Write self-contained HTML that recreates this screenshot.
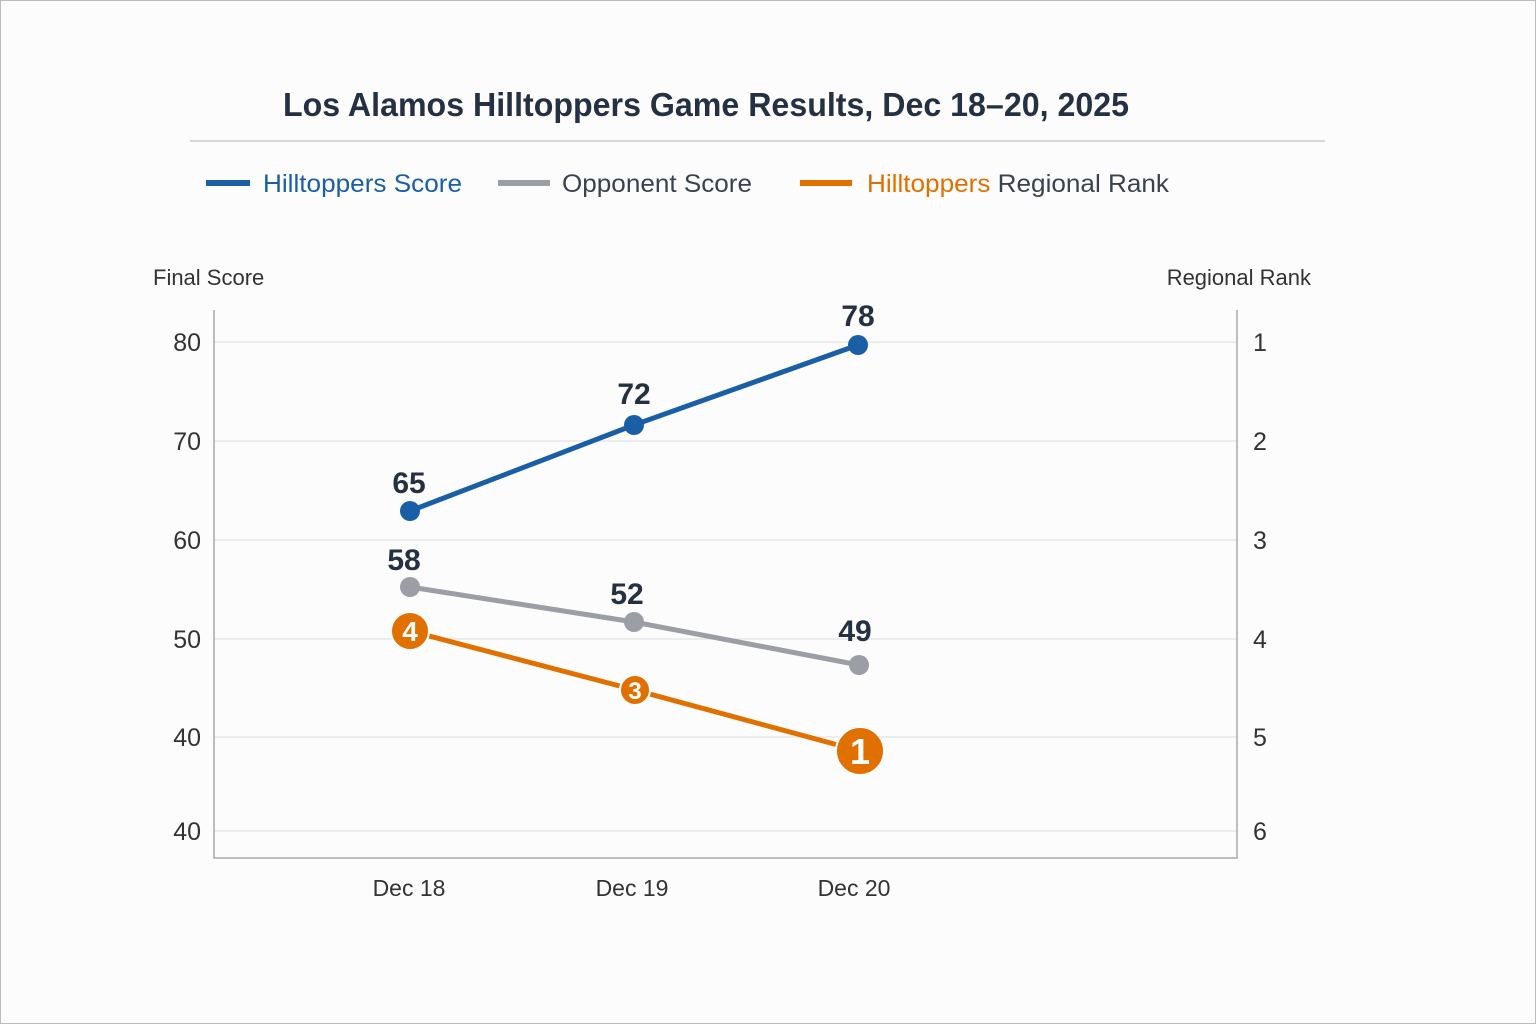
<!DOCTYPE html>
<html><head><meta charset="utf-8"><style>
html,body{margin:0;padding:0;background:#fff;}
svg{display:block;font-family:"Liberation Sans",sans-serif;}
</style></head><body>
<svg width="1536" height="1024" viewBox="0 0 1536 1024">
<rect x="0" y="0" width="1536" height="1024" fill="#fcfcfc"/>
<rect x="0.5" y="0.5" width="1535" height="1023" fill="none" stroke="#bbb" stroke-width="1"/>
<text x="283" y="116" textLength="846" lengthAdjust="spacingAndGlyphs" font-size="33" font-weight="bold" fill="#253142">Los Alamos Hilltoppers Game Results, Dec 18–20, 2025</text>
<line x1="190" y1="141" x2="1325" y2="141" stroke="#ccc" stroke-width="1.5"/>
<line x1="206" y1="183" x2="250" y2="183" stroke="#1a5ea6" stroke-width="6"/>
<text x="263" y="192" font-size="25" fill="#1a5ea6" textLength="199" lengthAdjust="spacingAndGlyphs">Hilltoppers Score</text>
<line x1="498" y1="183" x2="550" y2="183" stroke="#9b9ea4" stroke-width="6"/>
<text x="562" y="192" font-size="25" fill="#3a4250" textLength="190" lengthAdjust="spacingAndGlyphs">Opponent Score</text>
<line x1="800" y1="183" x2="852" y2="183" stroke="#e07000" stroke-width="6"/>
<text x="867" y="192" font-size="25" fill="#3a4250" textLength="302" lengthAdjust="spacingAndGlyphs"><tspan fill="#e07000">Hilltoppers</tspan> Regional Rank</text>
<text x="153" y="285" font-size="22" fill="#333">Final Score</text>
<text x="1311" y="285" font-size="22" fill="#333" text-anchor="end">Regional Rank</text>
<g stroke="#e2e2e2" stroke-width="1.2">
<line x1="214" y1="342" x2="1237" y2="342"/><line x1="214" y1="441" x2="1237" y2="441"/>
<line x1="214" y1="540" x2="1237" y2="540"/><line x1="214" y1="639" x2="1237" y2="639"/>
<line x1="214" y1="737" x2="1237" y2="737"/><line x1="214" y1="831" x2="1237" y2="831"/>
</g>
<path d="M214 310 V858 H1237 V310" fill="none" stroke="#aaa" stroke-width="1.5"/>
<g font-size="25" fill="#333" text-anchor="end">
<text x="201" y="351">80</text><text x="201" y="450">70</text><text x="201" y="549">60</text>
<text x="201" y="648">50</text><text x="201" y="746">40</text><text x="201" y="840">40</text>
</g>
<g font-size="25" fill="#333">
<text x="1253" y="351">1</text><text x="1253" y="450">2</text><text x="1253" y="549">3</text>
<text x="1253" y="648">4</text><text x="1253" y="746">5</text><text x="1253" y="840">6</text>
</g>
<g font-size="23" fill="#333" text-anchor="middle">
<text x="409" y="896">Dec 18</text><text x="632" y="896">Dec 19</text><text x="854" y="896">Dec 20</text>
</g>
<polyline points="410,511 634,425 858,345" fill="none" stroke="#1a5ea6" stroke-width="5"/>
<g fill="#1a5ea6"><circle cx="410" cy="511" r="10"/><circle cx="634" cy="425" r="10"/><circle cx="858" cy="345" r="10"/></g>
<polyline points="410,587 634,622 859,665" fill="none" stroke="#9b9ea4" stroke-width="5"/>
<g fill="#9b9ea4"><circle cx="410" cy="587" r="10"/><circle cx="634" cy="622" r="10"/><circle cx="859" cy="665" r="10"/></g>
<polyline points="410,631 635,690 860,751" fill="none" stroke="#e07000" stroke-width="5"/>
<g fill="#e07000" stroke="#fff" stroke-width="2"><circle cx="410" cy="631" r="19"/><circle cx="635" cy="690" r="15"/><circle cx="860" cy="751" r="24"/></g>
<g fill="#fff" font-weight="bold" text-anchor="middle">
<text x="410" y="641" font-size="28">4</text><text x="635" y="699" font-size="24">3</text><text x="860" y="764" font-size="36">1</text>
</g>
<g font-size="30" font-weight="bold" fill="#253142" text-anchor="middle">
<text x="409" y="493">65</text><text x="634" y="404">72</text><text x="858" y="326">78</text>
<text x="404" y="570">58</text><text x="627" y="604">52</text><text x="855" y="641">49</text>
</g>
</svg>
</body></html>
